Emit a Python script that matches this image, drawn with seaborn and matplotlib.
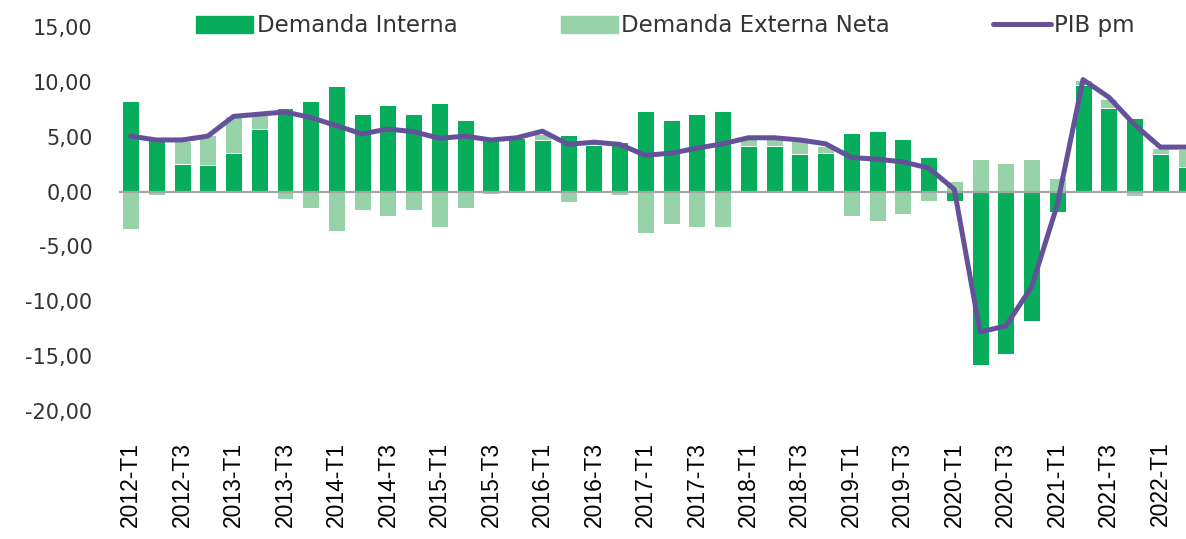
import numpy as np
import pandas as pd
import matplotlib
matplotlib.use("Agg")
import matplotlib.pyplot as plt
import seaborn as sns
from matplotlib.patches import Patch
from matplotlib.lines import Line2D

# quarterly data, 2012-T1 .. 2022-T2
years = list(range(2012, 2023))
quarters = [f"{y}-T{q}" for y in years for q in range(1, 5)][:42]

demanda_interna = [8.25, 4.95, 2.55, 2.4, 3.55, 5.7, 7.65, 8.25, 9.6, 7.1,
                   7.85, 7.1, 8.05, 6.5, 4.75, 4.9, 4.7, 5.15, 4.2, 4.55,
                   7.3, 6.5, 7.1, 7.3, 4.15, 4.15, 3.4, 3.55, 5.35, 5.55,
                   4.75, 3.15, -0.9, -15.85, -14.85, -11.8, -1.85, 9.75, 7.65, 6.7,
                   3.4, 2.2]
demanda_externa = [-3.45, -0.3, 2.1, 2.75, 3.3, 1.25, -0.7, -1.5, -3.6, -1.7,
                   -2.25, -1.7, -3.25, -1.5, -0.2, -0.15, 0.55, -0.95, 0.3, -0.35,
                   -3.8, -3.0, -3.25, -3.25, 0.65, 0.65, 1.3, 0.6, -2.25, -2.65,
                   -2.05, -0.9, 1.0, 3.0, 2.6, 3.0, 1.25, 0.45, 0.8, -0.45,
                   0.55, 1.7]
pib_pm = [5.05, 4.7, 4.7, 5.05, 6.85, 7.05, 7.25, 6.75, 6.0, 5.25,
          5.7, 5.45, 4.85, 5.05, 4.7, 4.9, 5.5, 4.3, 4.5, 4.3,
          3.3, 3.5, 3.95, 4.35, 4.9, 4.9, 4.7, 4.35, 3.1, 2.95,
          2.7, 2.15, 0.2, -12.8, -12.25, -8.7, -1.2, 10.2, 8.6, 6.1,
          4.05, 4.05]

y_ticks = [15, 10, 5, 0, -5, -10, -15, -20]

c_int = "#08ad5c"
c_ext = "#98d2a9"
c_pib = "#65519a"
txt = "#333333"

df = pd.DataFrame({"pos": np.arange(len(quarters)),
                   "di": demanda_interna, "den": demanda_externa, "pib": pib_pm})
# stacked like Excel: external sits on top of internal when same sign
same = np.sign(df["di"]) == np.sign(df["den"])
df["den_top"] = np.where(same, df["di"] + df["den"], df["den"])

sns.set_style("white")
plt.rcParams["font.family"] = ["DejaVu Sans"]

fig = plt.figure(figsize=(11.86, 5.39), dpi=100)
ax = fig.add_axes([0.1003, 0.2375, 0.8997, 0.7125])

sns.barplot(data=df, x="pos", y="den_top", color=c_ext, saturation=1,
            width=0.66, edgecolor="white", linewidth=0.7, ax=ax)
sns.barplot(data=df, x="pos", y="di", color=c_int, saturation=1,
            width=0.66, edgecolor="white", linewidth=0.7, ax=ax)
ax.axhline(0, color="#a6a6a6", lw=1.6, zorder=2)
sns.lineplot(data=df, x="pos", y="pib", color=c_pib, lw=3.6, ax=ax, zorder=3)

ax.set_xlim(-0.45, 41.0)
ax.set_ylim(-20, 15)
ax.set_yticks(y_ticks)
ax.set_yticklabels([f"{v:.2f}".replace(".", ",") for v in y_ticks],
                   fontsize=15, color=txt)
ax.set_xticks(np.arange(0, len(quarters), 2))
ax.set_xticklabels(quarters[::2], rotation=90, fontsize=16.5, color="black")
for t in ax.get_xticklabels():
    t.set_fontfamily(["Liberation Sans", "DejaVu Sans"])
ax.tick_params(axis="x", length=0, pad=22)
ax.tick_params(axis="y", length=0, pad=19)
ax.set_xlabel("")
ax.set_ylabel("")
sns.despine(ax=ax, left=True, bottom=True)

handles = [Patch(color=c_int), Patch(color=c_ext), Line2D([], [], color=c_pib, lw=3.6)]
labels = ["Demanda Interna", "Demanda Externa Neta", "PIB pm"]
leg = fig.legend(handles, labels, ncol=3, loc="center", bbox_to_anchor=(0.561, 0.952),
                 frameon=False, fontsize=16.5, handlelength=2.5, handleheight=0.75,
                 handletextpad=0.15, columnspacing=4.5)
for t in leg.get_texts():
    t.set_color(txt)

fig.savefig("out.png", dpi=100)
